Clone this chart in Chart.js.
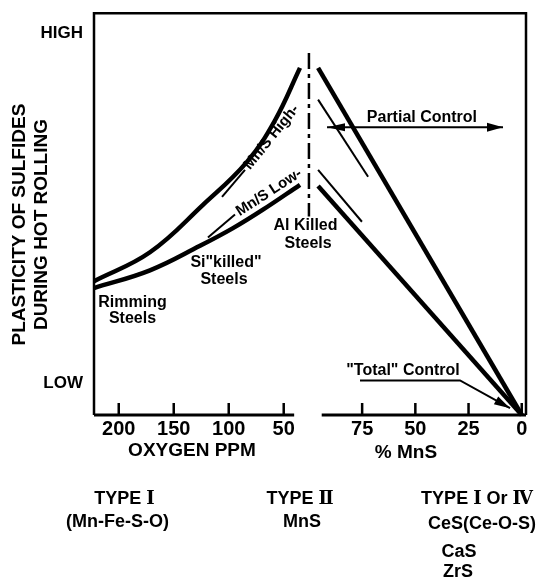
<!DOCTYPE html>
<html>
<head>
<meta charset="utf-8">
<script src="https://cdn.jsdelivr.net/npm/chart.js@4.4.1/dist/chart.umd.min.js"></script>
<style>
  html, body { margin: 0; padding: 0; background: #fff; }
  #wrap { width: 538px; height: 586px; }
</style>
</head>
<body>
<div id="wrap"><canvas id="chart"></canvas></div>
<script>
// ── Axis ticks ────────────────────────────────────────────────
const OXY_TICKS = [200, 150, 100, 50];
const MNS_TICKS = [75, 50, 25, 0];
const Y_TICKS = [8, 95];
const Y_TICK_LABELS = ['LOW', 'HIGH'];

// ── Left half: oxygen ppm vs plasticity (0-100) ──────────────
const HIGH_OXY = [222.5, 171.6, 123.4, 83.4, 58.0, 35.2];
const HIGH_PLAST = [33.3, 40.5, 52.3, 63.0, 73.3, 86.4];
const LOW_OXY = [222.5, 171.6, 126.1, 96.1, 68.9, 35.2];
const LOW_PLAST = [31.6, 36.0, 42.1, 46.5, 51.1, 57.3];
// short reference strokes in front of the Mn/S labels
const HIGH_TAG_OXY = [106.1, 85.2];
const HIGH_TAG_PLAST = [54.3, 61.0];
const LOW_TAG_OXY = [118.9, 94.3];
const LOW_TAG_PLAST = [44.2, 49.9];

// ── Right half: % MnS vs plasticity ──────────────────────────
const HIGH_MNS = [95.7, 0];
const HIGH_MNS_PLAST = [86.4, 0];
const LOW_MNS = [95.7, 0];
const LOW_MNS_PLAST = [57.0, 0];
const HIGH_THIN_MNS = [95.7, 72.2];
const HIGH_THIN_PLAST = [78.5, 59.3];
const LOW_THIN_MNS = [95.7, 75.1];
const LOW_THIN_PLAST = [61.0, 48.1];
const DIVIDER_MNS = [100, 100, 100, 100, 100];
const DIVIDER_PLAST = [90.1, 49.4, null, 38.8, 0];
const PARTIAL_MNS = [91.5, 8.8];
const PARTIAL_PLAST = [71.6, 71.6];
const TOTAL_MNS = [76.0, 29.0, 5.5];
const TOTAL_PLAST = [8.6, 8.6, 1.7];

// ── Styles ────────────────────────────────────────────────────
const INK = '#000';
const FONT = "'Liberation Sans', Arial, sans-serif";
const NUMERAL_FONT = "'DejaVu Serif', 'Liberation Serif', serif";

function pts(xs, ys) {
    return xs.map(function (x, i) { return { x: x, y: ys[i] }; });
}

function line(data, axis, width, extra) {
    return Object.assign({
        data: data,
        xAxisID: axis,
        yAxisID: 'y',
        borderColor: INK,
        backgroundColor: INK,
        borderWidth: width,
        pointRadius: 0,
        fill: false,
        spanGaps: false,
        clip: false
    }, extra || {});
}

function text(ctx, str, x, y, size, align, rot) {
    ctx.save();
    ctx.font = 'bold ' + size + 'px ' + FONT;
    ctx.fillStyle = INK;
    ctx.textAlign = align || 'center';
    ctx.textBaseline = 'middle';
    ctx.translate(x, y);
    if (rot) ctx.rotate(rot * Math.PI / 180);
    ctx.fillText(str, 0, 0);
    ctx.restore();
}

// centred text made of runs; roman numerals get their own face
function typeText(ctx, parts, cx, y, size) {
    ctx.save();
    ctx.fillStyle = INK;
    ctx.textBaseline = 'alphabetic';
    ctx.textAlign = 'left';
    var fonts = parts.map(function (p, i) {
        return 'bold ' + size + 'px ' + (i % 2 ? NUMERAL_FONT : FONT);
    });
    var total = 0;
    parts.forEach(function (p, i) { ctx.font = fonts[i]; total += ctx.measureText(p).width; });
    var x = cx - total / 2;
    var base = y + size * 0.36;
    parts.forEach(function (p, i) {
        ctx.font = fonts[i];
        ctx.fillText(p, x, base);
        x += ctx.measureText(p).width;
    });
    ctx.restore();
}

function arrowHead(ctx, from, to, len, half) {
    var a = Math.atan2(to.y - from.y, to.x - from.x);
    ctx.save();
    ctx.fillStyle = INK;
    ctx.translate(to.x, to.y);
    ctx.rotate(a);
    ctx.beginPath();
    ctx.moveTo(0, 0);
    ctx.lineTo(-len, -half);
    ctx.lineTo(-len, half);
    ctx.closePath();
    ctx.fill();
    ctx.restore();
}

function slanted(ctx, pt, str, deg) {
    ctx.save();
    ctx.translate(pt.x, pt.y);
    ctx.rotate(deg * Math.PI / 180);
    ctx.font = 'bold 15px ' + FONT;
    ctx.fillStyle = INK;
    ctx.textBaseline = 'middle';
    ctx.fillText(str, 3, 0);
    ctx.restore();
}

// frame, broken bottom axis, inward ticks, arrows and notes
const decor = {
    id: 'decor',
    beforeDatasetsDraw: function (chart) {
        var ctx = chart.ctx, a = chart.chartArea;
        var xO = chart.scales.xO, xM = chart.scales.xM;
        ctx.save();
        ctx.strokeStyle = INK;
        ctx.lineWidth = 2.5;
        ctx.beginPath();
        ctx.moveTo(a.left, a.bottom);
        ctx.lineTo(a.left, a.top);
        ctx.lineTo(a.right, a.top);
        ctx.lineTo(a.right, a.bottom);
        ctx.stroke();

        ctx.lineWidth = 3;
        ctx.beginPath();
        ctx.moveTo(a.left, a.bottom);
        ctx.lineTo(xO.getPixelForValue(40.5), a.bottom);
        ctx.moveTo(xM.getPixelForValue(94), a.bottom);
        ctx.lineTo(a.right, a.bottom);
        ctx.stroke();

        ctx.lineWidth = 2.5;
        ctx.beginPath();
        [xO, xM].forEach(function (s) {
            s.ticks.forEach(function (t) {
                var px = s.getPixelForValue(t.value);
                ctx.moveTo(px, a.bottom);
                ctx.lineTo(px, a.bottom - 12);
            });
        });
        ctx.stroke();
        ctx.restore();
    },
    afterDatasetsDraw: function (chart) {
        var ctx = chart.ctx, a = chart.chartArea;
        var xO = chart.scales.xO, xM = chart.scales.xM, y = chart.scales.y;

        chart.data.datasets.forEach(function (ds, i) {
            if (!ds.arrows) return;
            var p = chart.getDatasetMeta(i).data;
            var n = p.length;
            if (ds.arrows.indexOf('end') >= 0) arrowHead(ctx, p[n - 2], p[n - 1], 16, 4.5);
            if (ds.arrows.indexOf('start') >= 0) arrowHead(ctx, p[1], p[0], 18, 4);
        });

        // curve notes, set after the ends of the short strokes
        slanted(ctx, chart.getDatasetMeta(2).data[1], 'Mn/S High-', -51);
        slanted(ctx, chart.getDatasetMeta(3).data[1], 'Mn/S Low-', -33);

        text(ctx, 'Rimming', xO.getPixelForValue(187.5), y.getPixelForValue(27.9), 16);
        text(ctx, 'Steels', xO.getPixelForValue(187.5), y.getPixelForValue(24.0), 16);
        text(ctx, 'Si"killed"', xO.getPixelForValue(102.5), y.getPixelForValue(38.0), 16);
        text(ctx, 'Steels', xO.getPixelForValue(104.3), y.getPixelForValue(33.8), 16);
        text(ctx, 'Al Killed', xM.getPixelForValue(101.6), y.getPixelForValue(47.2), 16);
        text(ctx, 'Steels', xM.getPixelForValue(100.4), y.getPixelForValue(42.7), 16);
        text(ctx, 'Partial Control', xM.getPixelForValue(46.9), y.getPixelForValue(74.1), 16);
        text(ctx, '"Total" Control', xM.getPixelForValue(55.8), y.getPixelForValue(11.1), 16);

        // axis titles
        var midY = y.getPixelForValue(47.4);
        text(ctx, 'PLASTICITY OF SULFIDES', 20, midY, 19, 'center', -90);
        text(ctx, 'DURING HOT ROLLING', 42, midY, 19, 'center', -90);
        text(ctx, 'OXYGEN PPM', xO.getPixelForValue(133.4), a.bottom + 36, 19);
        text(ctx, '% MnS', xM.getPixelForValue(54.4), a.bottom + 38, 19);

        // inclusion types
        var b = a.bottom;
        typeText(ctx, ['TYPE ', '\u2160'], xO.getPixelForValue(194.8), b + 83, 18);
        text(ctx, '(Mn-Fe-S-O)', xO.getPixelForValue(201.1), b + 107, 18);
        typeText(ctx, ['TYPE ', '\u2161'], xO.getPixelForValue(35.2), b + 83, 18);
        text(ctx, 'MnS', xO.getPixelForValue(33.4), b + 107, 18);
        typeText(ctx, ['TYPE ', '\u2160', ' Or ', '\u2163'], xM.getPixelForValue(21.0), b + 83, 18);
        text(ctx, 'CeS(Ce-O-S)', xM.getPixelForValue(18.7), b + 109, 18);
        text(ctx, 'CaS', xM.getPixelForValue(29.5), b + 137, 18);
        text(ctx, 'ZrS', xM.getPixelForValue(29.9), b + 157, 18);
    }
};

function xAxis(min, max, ticks) {
    return {
        type: 'linear',
        axis: 'x',
        position: 'bottom',
        stack: 'base',
        stackWeight: 1,
        reverse: true,
        min: min,
        max: max,
        grid: { display: false },
        border: { display: false },
        ticks: {
            color: INK,
            font: { family: FONT, size: 20, weight: 'bold' },
            padding: -6,
            autoSkip: false,
            maxRotation: 0
        },
        afterBuildTicks: function (s) { s.ticks = ticks.map(function (v) { return { value: v }; }); },
        afterFit: function (s) { s.height = 171; }
    };
}

new Chart(document.getElementById('chart'), {
    type: 'line',
    data: {
        datasets: [
            line(pts(HIGH_OXY, HIGH_PLAST), 'xO', 4.5, { tension: 0.4 }),
            line(pts(LOW_OXY, LOW_PLAST), 'xO', 4.5, { tension: 0.4 }),
            line(pts(HIGH_TAG_OXY, HIGH_TAG_PLAST), 'xO', 2),
            line(pts(LOW_TAG_OXY, LOW_TAG_PLAST), 'xO', 2),
            line(pts(HIGH_MNS, HIGH_MNS_PLAST), 'xM', 4.5),
            line(pts(LOW_MNS, LOW_MNS_PLAST), 'xM', 4.5),
            line(pts(HIGH_THIN_MNS, HIGH_THIN_PLAST), 'xM', 2),
            line(pts(LOW_THIN_MNS, LOW_THIN_PLAST), 'xM', 2),
            line(pts(DIVIDER_MNS, DIVIDER_PLAST), 'xM', 2.5, { borderDash: [16, 5, 4, 5] }),
            line(pts(PARTIAL_MNS, PARTIAL_PLAST), 'xM', 2, { arrows: ['start', 'end'] }),
            line(pts(TOTAL_MNS, TOTAL_PLAST), 'xM', 2, { arrows: ['end'] })
        ]
    },
    options: {
        responsive: true,
        maintainAspectRatio: false,
        animation: false,
        events: [],
        layout: { padding: { left: 0, top: 10, right: 12, bottom: 0 } },
        plugins: {
            legend: { display: false },
            tooltip: { enabled: false }
        },
        scales: {
            xO: xAxis(26.1, 222.5, OXY_TICKS),
            xM: xAxis(-2, 99.5, MNS_TICKS),
            y: {
                type: 'linear',
                position: 'left',
                min: 0,
                max: 100,
                grid: { display: false },
                border: { display: false },
                ticks: {
                    color: INK,
                    font: { family: FONT, size: 17, weight: 'bold' },
                    padding: 3,
                    autoSkip: false,
                    callback: function (v) { return Y_TICK_LABELS[Y_TICKS.indexOf(v)]; }
                },
                afterBuildTicks: function (s) { s.ticks = Y_TICKS.map(function (v) { return { value: v }; }); },
                afterFit: function (s) { s.width = 94; }
            }
        }
    },
    plugins: [decor]
});
</script>
</body>
</html>
